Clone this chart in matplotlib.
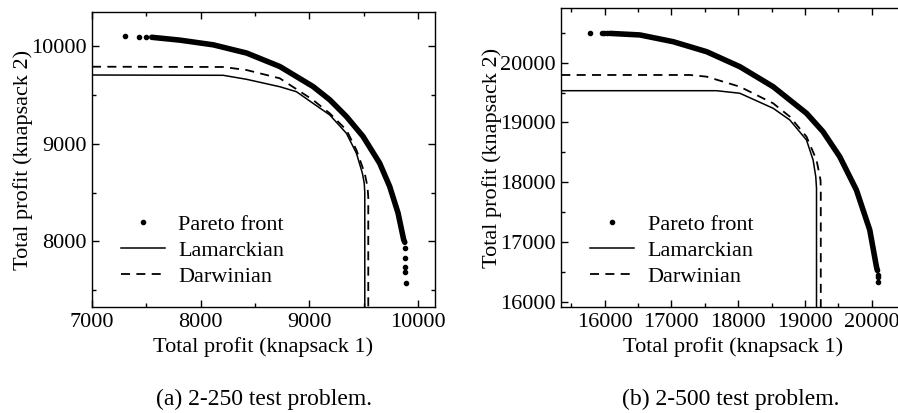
import matplotlib
matplotlib.use("Agg")
import matplotlib.pyplot as plt
from matplotlib.ticker import MultipleLocator

plt.rcParams['font.family'] = ['Liberation Serif', 'DejaVu Serif']

# ---- (a) 2-250 test problem ----
a_sparse_x = [7300, 7430, 7500, 9880, 9880, 9880, 9880, 9885]
a_sparse_y = [10100, 10095, 10092, 7929, 7827, 7742, 7690, 7571]
a_front_x = [7550, 7809, 8115, 8422, 8728, 9034, 9188, 9341, 9494, 9647, 9739, 9816, 9868,
             9878]
a_front_y = [10089, 10060, 10012, 9928, 9790, 9585, 9449, 9278, 9074, 8800, 8562, 8290,
             8016, 7990]
a_lam_x = [7000, 8207, 8422, 8728, 8881, 9034, 9188, 9341, 9433, 9488, 9505, 9510, 9510]
a_lam_y = [9703, 9700, 9659, 9583, 9532, 9413, 9294, 9106, 8902, 8697, 8595, 8500, 7300]
a_dar_x = [7000, 8207, 8422, 8728, 9034, 9188, 9341, 9433, 9509, 9535, 9542, 9542]
a_dar_y = [9788, 9785, 9754, 9669, 9447, 9310, 9140, 8935, 8697, 8560, 8450, 7300]

# ---- (b) 2-500 test problem ----
b_sparse_x = [15780, 15960, 15990, 16030, 20085, 20090, 20090, 20090]
b_sparse_y = [20492, 20492, 20492, 20490, 16527, 16450, 16418, 16335]
b_front_x = [16080, 16528, 17027, 17527, 18025, 18524, 19024, 19272, 19522, 19772, 19972,
             20072, 20082]
b_front_y = [20490, 20464, 20351, 20184, 19933, 19598, 19153, 18845, 18427, 17869, 17200,
             16586, 16540]
b_lam_x = [15350, 17677, 18025, 18524, 18774, 19024, 19123, 19163, 19174, 19174]
b_lam_y = [19531, 19531, 19488, 19237, 19041, 18706, 18372, 18092, 17900, 15900]
b_dar_x = [15350, 17277, 17527, 18025, 18524, 18774, 19024, 19174, 19234, 19238, 19238]
b_dar_y = [19794, 19794, 19766, 19598, 19320, 19097, 18762, 18372, 18037, 17900, 15900]

fig = plt.figure(figsize=(8.98, 4.13), dpi=100)
W, H = 898, 413
ax1 = fig.add_axes([92 / W, 1 - 307 / H, (435 - 92) / W, (307 - 12) / H])
ax2 = fig.add_axes([561.3 / W, 1 - 307 / H, (905 - 561.3) / W, (307 - 8.3) / H])

panels = [
    (ax1, a_sparse_x, a_sparse_y, a_front_x, a_front_y, a_lam_x, a_lam_y, a_dar_x, a_dar_y,
     (7000, 10156), (7328, 10348)),
    (ax2, b_sparse_x, b_sparse_y, b_front_x, b_front_y, b_lam_x, b_lam_y, b_dar_x, b_dar_y,
     (15350, 20500), (15911, 20910)),
]

for ax, sx, sy, fx, fy, lx, ly, dx, dy, xl, yl in panels:
    ax.plot(fx, fy, '-', color='black', lw=4.0, solid_capstyle='round', solid_joinstyle='round')
    ax.plot(sx, sy, '.', color='black', ms=6, label='Pareto front')
    ax.plot(lx, ly, '-', color='black', lw=1.1, label='Lamarckian')
    ax.plot(dx, dy, '--', color='black', lw=1.3, dashes=(5, 3.5), label='Darwinian')
    ax.set_xlim(*xl)
    ax.set_ylim(*yl)
    ax.xaxis.set_major_locator(MultipleLocator(1000))
    ax.xaxis.set_minor_locator(MultipleLocator(500))
    ax.yaxis.set_major_locator(MultipleLocator(1000))
    ax.yaxis.set_minor_locator(MultipleLocator(500))
    ax.tick_params(which='both', direction='in', top=True, right=True, labelsize=16,
                   width=1, pad=4)
    ax.tick_params(which='major', length=5)
    ax.tick_params(which='minor', length=3)
    for s in ax.spines.values():
        s.set_linewidth(1)
    ax.set_xlabel('Total profit (knapsack 1)', fontsize=16, labelpad=4)
    ax.set_ylabel('Total profit (knapsack 2)', fontsize=16, labelpad=-1.5)
    ax.legend(loc='lower left', bbox_to_anchor=(0.025, 0.0), frameon=False, fontsize=16,
              handlelength=2.0, handletextpad=0.6, labelspacing=0.25)

fig.text(264 / W, 1 - 405 / H, '(a) 2-250 test problem.', ha='center', va='baseline',
         fontsize=17)
fig.text(731 / W, 1 - 405 / H, '(b) 2-500 test problem.', ha='center', va='baseline',
         fontsize=17)

fig.savefig('out.png', dpi=100)
